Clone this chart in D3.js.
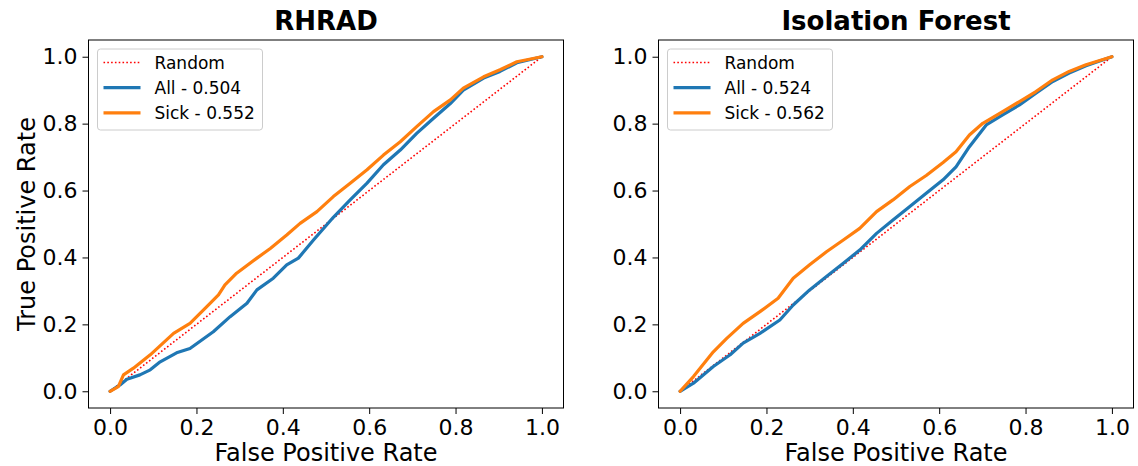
<!DOCTYPE html>
<html>
<head>
<meta charset="utf-8">
<script src="https://cdn.jsdelivr.net/npm/d3@7"></script>
<style>
  body { margin: 0; background: #fff; }
  svg { font-family: "DejaVu Sans", sans-serif; }
</style>
</head>
<body>
<svg id="chart" width="1138" height="466"></svg>
<script>
// panel titles and series labels
const titles = ["RHRAD", "Isolation Forest"]
const seriesNames = ["All", "Sick"]
const aucs = [[0.504, 0.552], [0.524, 0.562]]
const ticks = [0.0, 0.2, 0.4, 0.6, 0.8, 1.0]

// RHRAD roc points
const rhradAllFpr = [0, 0.023, 0.039, 0.069, 0.093, 0.116, 0.154, 0.185, 0.239, 0.278, 0.317, 0.340, 0.378, 0.409, 0.436, 0.471, 0.517, 0.556, 0.595, 0.633, 0.672, 0.710, 0.749, 0.788, 0.818, 0.865, 0.903, 0.942, 1.0]
const rhradAllTpr = [0, 0.019, 0.036, 0.049, 0.064, 0.088, 0.115, 0.128, 0.178, 0.223, 0.263, 0.303, 0.338, 0.378, 0.398, 0.452, 0.520, 0.572, 0.622, 0.677, 0.721, 0.771, 0.816, 0.860, 0.900, 0.936, 0.956, 0.982, 1.0]
const rhradSickFpr = [0, 0.019, 0.031, 0.054, 0.093, 0.147, 0.185, 0.224, 0.251, 0.266, 0.293, 0.340, 0.371, 0.409, 0.440, 0.479, 0.517, 0.556, 0.595, 0.633, 0.672, 0.710, 0.749, 0.788, 0.818, 0.865, 0.903, 0.942, 1.0]
const rhradSickTpr = [0, 0.014, 0.049, 0.069, 0.109, 0.173, 0.203, 0.253, 0.288, 0.318, 0.353, 0.398, 0.427, 0.467, 0.502, 0.537, 0.582, 0.622, 0.662, 0.706, 0.746, 0.791, 0.836, 0.871, 0.906, 0.940, 0.961, 0.985, 1.0]

// Isolation Forest roc points
const isoAllFpr = [0, 0.031, 0.077, 0.116, 0.146, 0.185, 0.231, 0.262, 0.300, 0.339, 0.378, 0.416, 0.455, 0.493, 0.532, 0.570, 0.609, 0.639, 0.670, 0.709, 0.747, 0.786, 0.824, 0.863, 0.901, 0.940, 1.0]
const isoAllTpr = [0, 0.024, 0.074, 0.109, 0.144, 0.173, 0.213, 0.258, 0.303, 0.343, 0.383, 0.422, 0.472, 0.512, 0.552, 0.592, 0.632, 0.671, 0.731, 0.796, 0.826, 0.856, 0.891, 0.926, 0.951, 0.973, 1.0]
const isoSickFpr = [0, 0.031, 0.077, 0.108, 0.146, 0.185, 0.227, 0.262, 0.300, 0.339, 0.378, 0.416, 0.455, 0.493, 0.532, 0.570, 0.609, 0.639, 0.670, 0.701, 0.747, 0.786, 0.824, 0.863, 0.901, 0.940, 1.0]
const isoSickTpr = [0, 0.044, 0.118, 0.158, 0.203, 0.238, 0.278, 0.338, 0.378, 0.417, 0.452, 0.487, 0.537, 0.572, 0.612, 0.645, 0.684, 0.716, 0.766, 0.801, 0.836, 0.866, 0.896, 0.931, 0.956, 0.976, 1.0]

const panels = [
    { title: titles[0], series: [[rhradAllFpr, rhradAllTpr], [rhradSickFpr, rhradSickTpr]], auc: aucs[0], left: 88.5, ylabel: true },
    { title: titles[1], series: [[isoAllFpr, isoAllTpr], [isoSickFpr, isoSickTpr]], auc: aucs[1], left: 658.5, ylabel: false }
]
const colors = ["#1f77b4", "#ff7f0e"]
const w = 475, plotTop = 40, plotBottom = 408

let svg = d3.select("#chart")

panels.forEach(p => {
    let x = d3.scaleLinear().domain([-0.05, 1.05]).range([p.left, p.left + w])
    let y = d3.scaleLinear().domain([-0.05, 1.05]).range([plotBottom, plotTop])
    let g = svg.append("g")

    // axes
    let xa = g.append("g").attr("transform", "translate(0," + plotBottom + ")")
        .call(d3.axisBottom(x).tickValues(ticks).tickFormat(d3.format(".1f")).tickSize(6).tickPadding(3))
    let ya = g.append("g").attr("transform", "translate(" + p.left + ",0)")
        .call(d3.axisLeft(y).tickValues(ticks).tickFormat(d3.format(".1f")).tickSize(6).tickPadding(5))
    ;[xa, ya].forEach(a => {
        a.select(".domain").remove()
        a.selectAll("text").attr("font-size", 22).attr("fill", "#000").attr("font-family", "DejaVu Sans")
        a.selectAll("line").attr("stroke", "#000").attr("stroke-width", 1)
    })
    xa.selectAll("text").attr("dy", "0.8em")

    // random diagonal
    let line = d3.line().x(d => x(d[0])).y(d => y(d[1]))
    g.append("path").datum([[0, 0], [1, 1]]).attr("d", line)
        .attr("fill", "none").attr("stroke", "red").attr("stroke-width", 1.6)
        .attr("stroke-dasharray", "1.6,2.2")

    p.series.forEach((s, i) => {
        let pts = s[0].map((v, k) => [v, s[1][k]])
        g.append("path").datum(pts).attr("d", line)
            .attr("fill", "none").attr("stroke", colors[i]).attr("stroke-width", 3.2)
            .attr("stroke-linejoin", "round").attr("stroke-linecap", "round")
    })

    // frame
    g.append("rect").attr("x", p.left).attr("y", plotTop).attr("width", w).attr("height", plotBottom - plotTop)
        .attr("fill", "none").attr("stroke", "#000").attr("stroke-width", 1)

    // title
    g.append("text").attr("x", p.left + w / 2).attr("y", 30).attr("text-anchor", "middle")
        .attr("font-size", 26).attr("font-weight", "bold").text(p.title)

    g.append("text").attr("x", p.left + w / 2).attr("y", 461).attr("text-anchor", "middle")
        .attr("font-size", 24).text("False Positive Rate")
    if (p.ylabel) {
        g.append("text").attr("transform", "translate(35," + ((plotTop + plotBottom) / 2) + ") rotate(-90)")
            .attr("text-anchor", "middle").attr("font-size", 24).text("True Positive Rate")
    }

    // legend
    let lg = g.append("g").attr("transform", "translate(" + (p.left + 9) + "," + (plotTop + 9) + ")")
    lg.append("rect").attr("width", 165).attr("height", 81).attr("rx", 3)
        .attr("fill", "#fff").attr("fill-opacity", 0.8).attr("stroke", "#ccc")
    let items = [
        { label: "Random", color: "red", dash: "1.6,2.2", sw: 1.6 },
        { label: seriesNames[0] + " - " + p.auc[0].toFixed(3), color: colors[0], dash: null, sw: 3.2 },
        { label: seriesNames[1] + " - " + p.auc[1].toFixed(3), color: colors[1], dash: null, sw: 3.2 }
    ]
    items.forEach((it, i) => {
        let yy = 13.5 + i * 25.2
        lg.append("line").attr("x1", 6).attr("x2", 43).attr("y1", yy).attr("y2", yy)
            .attr("stroke", it.color).attr("stroke-width", it.sw).attr("stroke-dasharray", it.dash)
        lg.append("text").attr("x", 57).attr("y", yy + 6).attr("font-size", 17).text(it.label)
    })
})
</script>
</body>
</html>
